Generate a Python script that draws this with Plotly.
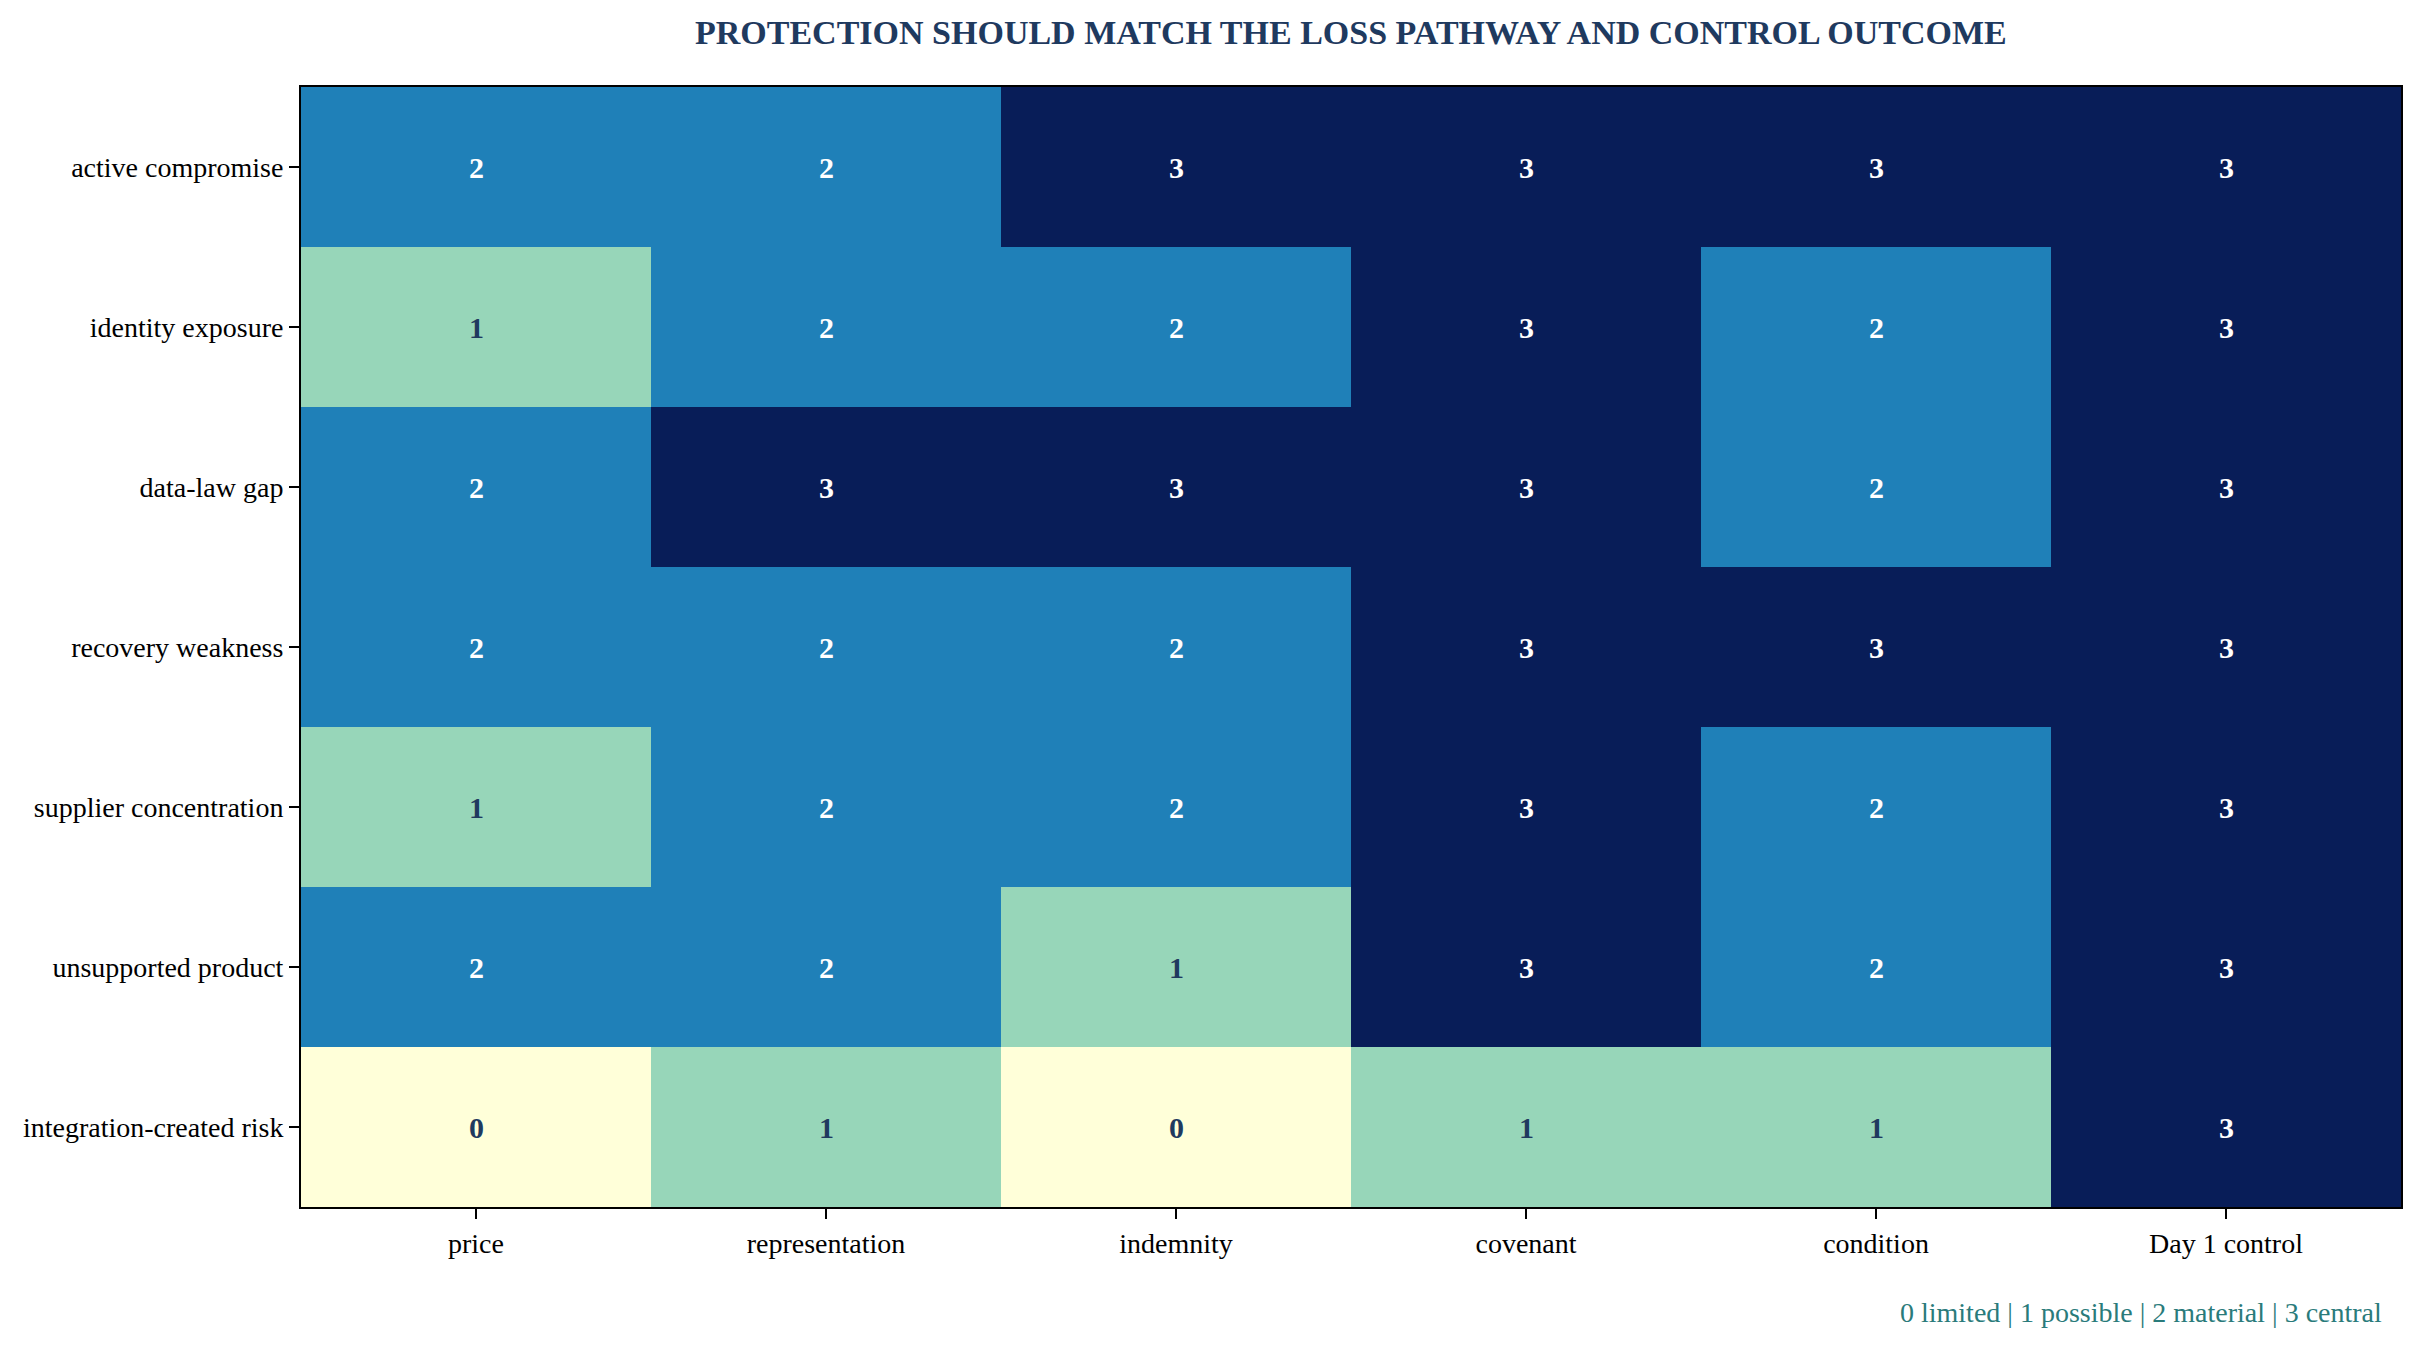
import plotly.graph_objects as go

# protection type vs loss pathway, score 0-3
columns = ["price", "representation", "indemnity", "covenant", "condition", "Day 1 control"]
pathways = ["active compromise", "identity exposure", "data-law gap", "recovery weakness",
            "supplier concentration", "unsupported product", "integration-created risk"]
scores = [
    [2, 2, 3, 3, 3, 3],
    [1, 2, 2, 3, 2, 3],
    [2, 3, 3, 3, 2, 3],
    [2, 2, 2, 3, 3, 3],
    [1, 2, 2, 3, 2, 3],
    [2, 2, 1, 3, 2, 3],
    [0, 1, 0, 1, 1, 3],
]
level_colors = ["#ffffd9", "#97d6b9", "#1f80b8", "#081d58"]
note = "0 limited | 1 possible | 2 material | 3 central"

# discrete colour bands, one per score
cscale = []
for i, c in enumerate(level_colors):
    cscale.append([i / 4, c])
    cscale.append([(i + 1) / 4, c])

heat = go.Heatmap(z=scores, x=columns, y=pathways, colorscale=cscale,
                  zmin=-0.5, zmax=3.5, showscale=False, xgap=0, ygap=0,
                  hoverinfo="skip")

fig = go.Figure(data=[heat])

for r, row in enumerate(scores):
    for c, v in enumerate(row):
        fig.add_annotation(x=columns[c], y=pathways[r], text="<b>%d</b>" % v,
                           showarrow=False,
                           font=dict(family="Liberation Serif", size=30,
                                     color="white" if v >= 2 else "#1f3a5f"))

fig.add_annotation(xref="paper", yref="paper", x=0.5, y=1.0, yshift=55,
                   text="<b>PROTECTION SHOULD MATCH THE LOSS PATHWAY AND CONTROL OUTCOME</b>",
                   showarrow=False, xanchor="center", yanchor="middle",
                   font=dict(family="Liberation Serif", size=34, color="#1f3a5f"))
fig.add_annotation(xref="paper", yref="paper", x=0.992, y=-0.0946, text=note,
                   showarrow=False, xanchor="right", yanchor="middle",
                   font=dict(family="Liberation Serif", size=28, color="#2a7b7b"))

axis_common = dict(showline=True, linecolor="black", linewidth=2, mirror=True,
                   ticks="outside", ticklen=10, tickwidth=2, tickcolor="black",
                   showgrid=False, zeroline=False,
                   tickfont=dict(family="Liberation Serif", size=28, color="black"))
fig.update_xaxes(**axis_common)
fig.update_yaxes(autorange="reversed", **axis_common)

fig.update_layout(width=2422, height=1348, plot_bgcolor="white", paper_bgcolor="white",
                  margin=dict(l=293, r=29, t=79, b=149),
                  font=dict(family="Liberation Serif"))

fig.write_html("out.html")
